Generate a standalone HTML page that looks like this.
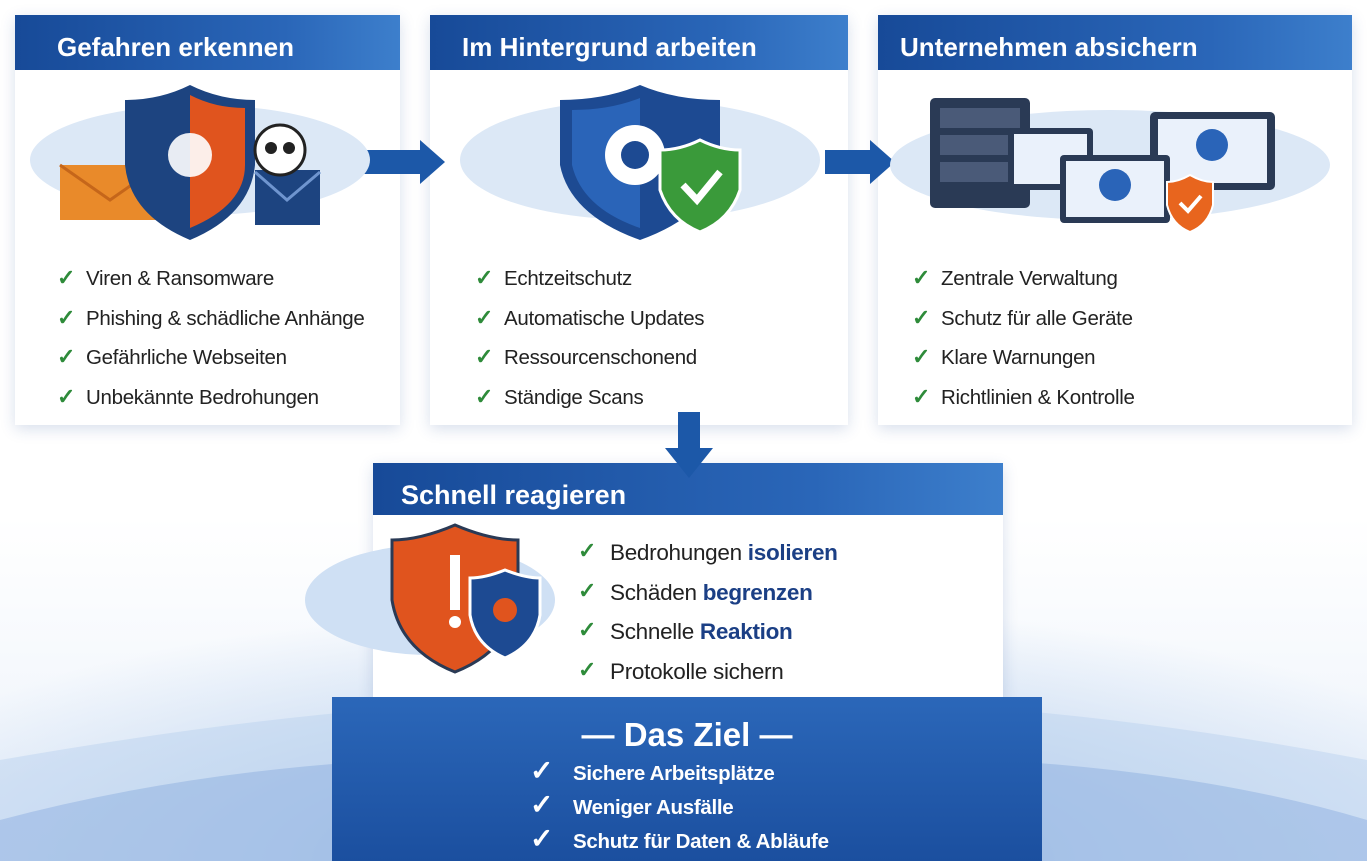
<!DOCTYPE html>
<html><head><meta charset="utf-8">
<style>
*{margin:0;padding:0;box-sizing:border-box}
body{width:1367px;height:861px;overflow:hidden;position:relative;font-family:"Liberation Sans",sans-serif;background:#fff}
.bg{position:absolute;inset:0;background:radial-gradient(ellipse 900px 260px at 683px 861px,#9dbce4 0%,#c9dbf2 45%,rgba(255,255,255,0) 100%),linear-gradient(#fff 60%,#eaf1fa 100%)}
.panel{position:absolute;background:#fff;box-shadow:0 4px 14px rgba(40,80,150,.18)}
.hd{position:absolute;left:0;right:0;top:0;height:55px;background:linear-gradient(90deg,#174a98,#2a66b8 70%,#3d7fcc);color:#fff;font-weight:bold;font-size:26px;padding:17px 0 0 42px}
ul{list-style:none;position:absolute}
li{font-size:20.5px;color:#222;height:39.5px;position:relative;padding-left:29px;letter-spacing:-0.3px}
li:before{content:"✓";position:absolute;left:0;top:-2px;color:#2e8b3a;font-weight:bold;font-size:22px}
b.k{color:#1b3f85}
.zl li{color:#fff;font-weight:bold;font-size:20.5px;height:34px;padding-left:43px}
.zl li:before{color:#fff;font-size:28px;top:-8px}
</style></head><body>
<div class="bg"></div>
<svg style="position:absolute;left:0;top:0" width="1367" height="861">
<path d="M0 760 Q400 690 683 700 Q1000 690 1367 760 L1367 861 L0 861Z" fill="#b9d0ee" opacity=".45"/>
<path d="M0 820 Q300 740 683 760 Q1100 740 1367 820 L1367 861 L0 861Z" fill="#7fa6dc" opacity=".4"/>
</svg>

<div class="panel" style="left:15px;top:15px;width:385px;height:410px"><div class="hd" style="padding-left:42px">Gefahren erkennen</div>
<ul style="left:42px;top:252px"><li>Viren &amp; Ransomware</li><li>Phishing &amp; schädliche Anhänge</li><li>Gefährliche Webseiten</li><li>Unbekännte Bedrohungen</li></ul></div>
<div class="panel" style="left:430px;top:15px;width:418px;height:410px"><div class="hd" style="padding-left:32px">Im Hintergrund arbeiten</div>
<ul style="left:45px;top:252px"><li>Echtzeitschutz</li><li>Automatische Updates</li><li>Ressourcenschonend</li><li>Ständige Scans</li></ul></div>
<div class="panel" style="left:878px;top:15px;width:474px;height:410px"><div class="hd" style="padding-left:22px">Unternehmen absichern</div>
<ul style="left:34px;top:252px"><li>Zentrale Verwaltung</li><li>Schutz für alle Geräte</li><li>Klare Warnungen</li><li>Richtlinien &amp; Kontrolle</li></ul></div>
<div class="panel" style="left:373px;top:463px;width:630px;height:235px"><div class="hd" style="height:52px;padding-left:28px;font-size:27px">Schnell reagieren</div>
<ul style="left:205px;top:77px"><li style="font-size:22.5px;padding-left:32px">Bedrohungen <b class="k">isolieren</b></li><li style="font-size:22.5px;padding-left:32px">Schäden <b class="k">begrenzen</b></li><li style="font-size:22.5px;padding-left:32px">Schnelle <b class="k">Reaktion</b></li><li style="font-size:22.5px;padding-left:32px">Protokolle sichern</li></ul></div>

<div style="position:absolute;left:332px;top:697px;width:710px;height:164px;background:linear-gradient(#2b67b9,#1b4f9f)"></div>
<div style="position:absolute;left:332px;top:716px;width:710px;text-align:center;color:#fff;font-weight:bold;font-size:33px">— Das Ziel —</div>
<ul class="zl" style="left:530px;top:762px"><li>Sichere Arbeitsplätze</li><li>Weniger Ausfälle</li><li>Schutz für Daten &amp; Abläufe</li></ul>

<svg style="position:absolute;left:0;top:0" width="1367" height="861">
<path d="M360 150 L420 150 L420 140 L445 162 L420 184 L420 174 L360 174Z" fill="#1c58a8"/>
<path d="M825 150 L870 150 L870 140 L895 162 L870 184 L870 174 L825 174Z" fill="#1c58a8"/>
<path d="M678 412 L700 412 L700 448 L713 448 L689 478 L665 448 L678 448Z" fill="#1c58a8"/>
<ellipse cx="200" cy="160" rx="170" ry="55" fill="#dce8f6"/>
<rect x="60" y="165" width="100" height="55" fill="#e98a2a"/><path d="M60 165 L110 200 L160 165" stroke="#c5661a" stroke-width="3" fill="none"/>
<rect x="255" y="170" width="65" height="55" fill="#1d4480"/><path d="M255 172 L287 200 L320 172" stroke="#6f95cf" stroke-width="3" fill="none"/>
<path d="M190 85 Q160 100 125 100 L125 165 Q130 215 190 240 Q250 215 255 165 L255 100 Q220 100 190 85Z" fill="#1d4480"/>
<path d="M190 95 L190 228 Q245 205 245 165 L245 108 Q215 108 190 95Z" fill="#e0541e"/>
<circle cx="190" cy="155" r="22" fill="#fff" opacity=".9"/>
<circle cx="280" cy="150" r="25" fill="#fff" stroke="#222" stroke-width="3"/><circle cx="271" cy="148" r="6" fill="#222"/><circle cx="289" cy="148" r="6" fill="#222"/>
<ellipse cx="640" cy="160" rx="180" ry="60" fill="#dce8f6"/>
<path d="M640 85 Q605 100 560 100 L560 165 Q570 215 640 240 Q710 215 720 165 L720 100 Q675 100 640 85Z" fill="#1d4a92"/>
<path d="M640 98 Q610 110 572 110 L572 165 Q582 208 640 228Z" fill="#2a64b8"/>
<circle cx="635" cy="155" r="30" fill="#fff"/><circle cx="635" cy="155" r="14" fill="#1d4a92"/>
<path d="M700 140 Q680 150 660 150 L660 190 Q670 220 700 232 Q730 220 740 190 L740 150 Q720 150 700 140Z" fill="#3a9a3a" stroke="#fff" stroke-width="3"/>
<path d="M683 185 L697 200 L720 172" stroke="#fff" stroke-width="7" fill="none"/>
<ellipse cx="1110" cy="165" rx="220" ry="55" fill="#dce8f6"/>
<rect x="930" y="98" width="100" height="110" rx="5" fill="#2a3a55"/>
<rect x="940" y="108" width="80" height="20" fill="#4a5a78"/><rect x="940" y="135" width="80" height="20" fill="#4a5a78"/><rect x="940" y="162" width="80" height="20" fill="#4a5a78"/>
<rect x="1150" y="112" width="125" height="78" rx="5" fill="#2a3a55"/><rect x="1158" y="119" width="109" height="64" fill="#eaf1fb"/>
<rect x="1008" y="128" width="85" height="62" rx="4" fill="#2a3a55"/><rect x="1014" y="134" width="73" height="50" fill="#eaf1fb"/>
<rect x="1060" y="155" width="110" height="68" rx="4" fill="#2a3a55"/><rect x="1066" y="161" width="98" height="56" fill="#eaf1fb"/>
<circle cx="1115" cy="185" r="16" fill="#2a64b8"/><circle cx="1212" cy="145" r="16" fill="#2a64b8"/>
<path d="M1190 175 Q1178 182 1167 182 L1167 205 Q1172 225 1190 232 Q1208 225 1213 205 L1213 182 Q1202 182 1190 175Z" fill="#e8651e" stroke="#fff" stroke-width="2"/>
<path d="M1180 203 L1188 211 L1201 196" stroke="#fff" stroke-width="4" fill="none"/>
<ellipse cx="430" cy="600" rx="125" ry="55" fill="#cfe0f4"/>
<path d="M455 525 Q420 540 392 540 L392 600 Q400 650 455 672 Q510 650 518 600 L518 540 Q490 540 455 525Z" fill="#e0541e" stroke="#2a3a55" stroke-width="3"/>
<rect x="450" y="555" width="10" height="55" fill="#fff"/><circle cx="455" cy="622" r="6" fill="#fff"/>
<path d="M505 570 Q485 578 470 578 L470 615 Q475 645 505 658 Q535 645 540 615 L540 578 Q525 578 505 570Z" fill="#1d4a92" stroke="#fff" stroke-width="3"/>
<circle cx="505" cy="610" r="12" fill="#e0541e"/>
</svg>
</body></html>
